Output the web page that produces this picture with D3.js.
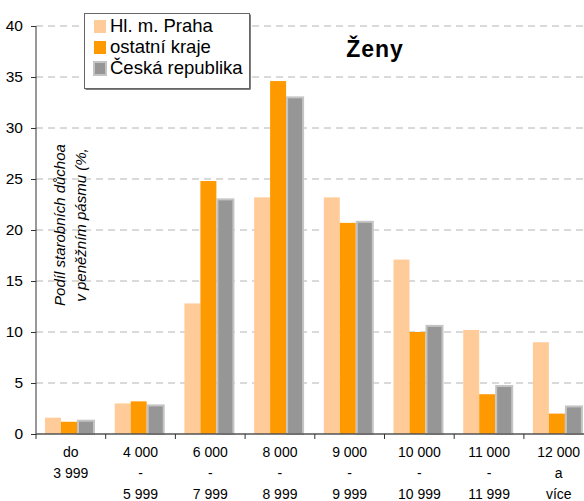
<!DOCTYPE html>
<html><head><meta charset="utf-8">
<script src="https://cdn.jsdelivr.net/npm/d3@7"></script>
<style>body{margin:0;background:#fff}svg{display:block;font-family:"Liberation Sans",Arial,sans-serif}</style>
</head><body><svg id="c" width="584" height="501"></svg>
<script>
const categories = [["do","3 999",""],["4 000","-","5 999"],["6 000","-","7 999"],["8 000","-","8 999"],["9 000","-","9 999"],["10 000","-","10 999"],["11 000","-","11 999"],["12 000","a","více"]];
const seriesNames = ["Hl. m. Praha","ostatní kraje","Česká republika"];
const praha = [1.6, 3.0, 12.8, 23.2, 23.2, 17.1, 10.2, 9.0];
const ostatni = [1.2, 3.2, 24.8, 34.6, 20.7, 10.0, 3.9, 2.0];
const cr = [1.4, 2.9, 23.1, 33.1, 20.9, 10.7, 4.8, 2.8];
const yTicks = [0,5,10,15,20,25,30,35,40];
const title = "Ženy";
const yTitle = ["Podíl starobních důchoa","v peněžním pásmu (%,"];
const colors = ["#ffcc99","#ff9900","#969696"];

const svg = d3.select("#c");
const x0 = d3.scaleBand().domain(d3.range(categories.length)).range([36, 593.6]).padding(0);
const x1 = d3.scaleBand().domain([0,1,2]).range([9, 57]).padding(0);
const y = d3.scaleLinear().domain([0,40]).range([434, 26]);

// gridlines
svg.append("g").selectAll("line").data(yTicks.filter(d=>d>0)).join("line")
  .attr("x1",36).attr("x2",584).attr("y1",d=>y(d)).attr("y2",d=>y(d))
  .attr("stroke","#b4b4b4").attr("stroke-width",1).attr("stroke-dasharray","7,5");

// bars
const data = [praha, ostatni, cr];
const g = svg.append("g");
data.forEach((vals,s)=>{
  g.selectAll(null).data(vals).join("rect")
    .attr("x",(d,i)=>x0(i)+x1(s)+(s===2?1:0))
    .attr("width",x1.bandwidth())
    .attr("y",d=>y(d)+(s===2?1:0))
    .attr("height",d=>y(0)-y(d)-(s===2?1:0))
    .attr("fill",colors[s])
    .attr("stroke",s===2?"#c4c4c4":"none")
    .attr("stroke-width",s===2?2:0);
});

// y axis
const yAxis = svg.append("g").attr("transform","translate(36,0)")
  .call(d3.axisLeft(y).tickValues(yTicks).tickSize(5).tickPadding(8).tickFormat(d3.format("d")));
yAxis.select(".domain").attr("stroke","#333").attr("d","M0,26V434");
yAxis.selectAll(".tick line").attr("stroke","#333");
yAxis.selectAll(".tick text").attr("font-size",15.5).attr("fill","#000").attr("font-family","Liberation Sans, Arial");

// x axis
svg.append("line").attr("x1",36).attr("x2",584).attr("y1",434).attr("y2",434).attr("stroke","#555").attr("stroke-width",1.5);
svg.append("g").selectAll("line").data(d3.range(categories.length)).join("line")
  .attr("x1",i=>x0(i)).attr("x2",i=>x0(i)).attr("y1",434).attr("y2",439).attr("stroke","#333");
const xl = svg.append("g");
categories.forEach((c,i)=>{
  c.forEach((t,k)=>{
    xl.append("text").attr("x",x0(i)+x0.bandwidth()/2).attr("y",457+k*21)
      .attr("text-anchor","middle").attr("font-size",14).text(t);
  });
});

// y title
yTitle.forEach((t,k)=>{
  svg.append("text").attr("transform",`translate(${65+k*21},225) rotate(-90)`)
    .attr("text-anchor","middle").attr("font-size",15).attr("font-style","italic").text(t);
});

// title
svg.append("text").attr("x",375).attr("y",57).attr("text-anchor","middle")
  .attr("font-size",23).attr("font-weight","bold").attr("letter-spacing",1).text(title);

// legend
const lg = svg.append("g");
lg.append("rect").attr("x",85.5).attr("y",14.5).attr("width",165).attr("height",75).attr("fill","#000");
lg.append("rect").attr("x",84.5).attr("y",13.5).attr("width",165).attr("height",75).attr("fill","#fff").attr("stroke","#666");
seriesNames.forEach((n,k)=>{
  lg.append("rect").attr("x",94).attr("y",20+k*21).attr("width",12).attr("height",13)
    .attr("fill",colors[k]).attr("stroke",k===2?"#c4c4c4":"none").attr("stroke-width",k===2?2:0);
  lg.append("text").attr("x",110).attr("y",32+k*21).attr("font-size",18.5).text(n);
});
</script></body></html>
